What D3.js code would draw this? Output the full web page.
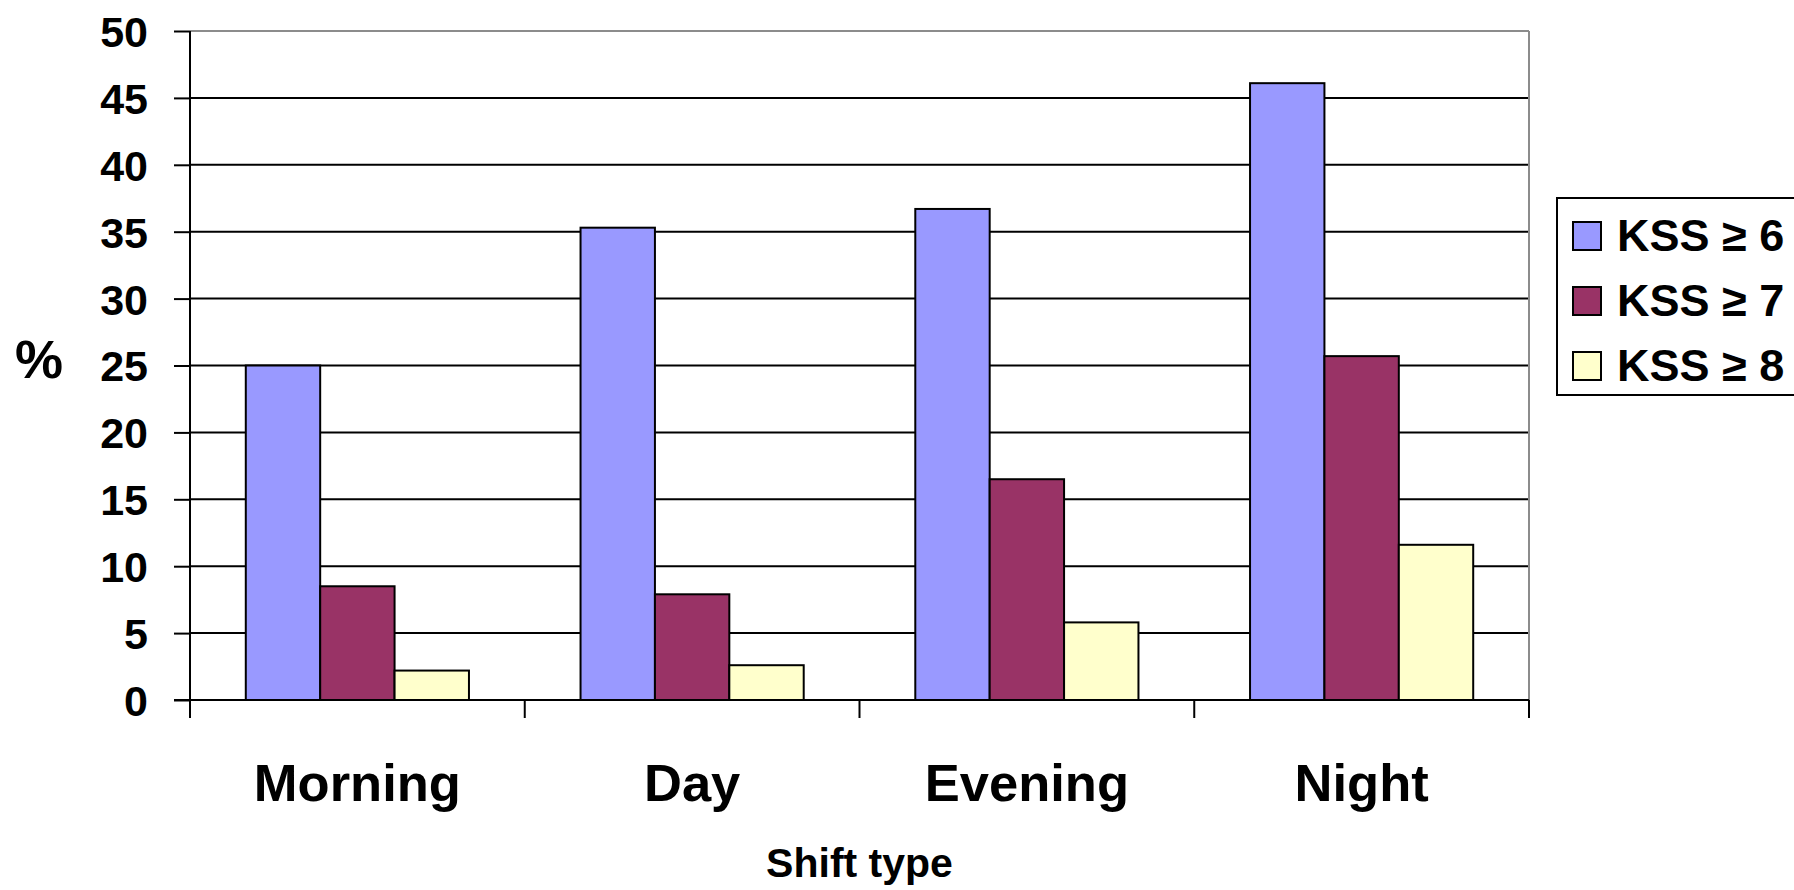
<!DOCTYPE html>
<html>
<head>
<meta charset="utf-8">
<script src="https://cdn.jsdelivr.net/npm/d3@7"></script>
<style>
  html, body { margin: 0; padding: 0; background: #ffffff; }
  svg { display: block; }
  text { font-family: "Liberation Sans", Arial, sans-serif; font-weight: bold; fill: #000; }
</style>
</head>
<body>
<svg id="chart" width="1794" height="890"></svg>
<script>
const categories = ["Morning", "Day", "Evening", "Night"];
const seriesNames = ["KSS \u2265 6", "KSS \u2265 7", "KSS \u2265 8"];
const kss6 = [25.0, 35.3, 36.7, 46.1];
const kss7 = [8.5, 7.9, 16.5, 25.7];
const kss8 = [2.2, 2.6, 5.8, 11.6];
const seriesColors = ["#9999FF", "#993366", "#FFFFCC"];
const yTicks = [0, 5, 10, 15, 20, 25, 30, 35, 40, 45, 50];
const xTitle = "Shift type";
const yTitle = "%";

const seriesValues = [kss6, kss7, kss8];

const svg = d3.select("#chart");
const mLeft = 190, mRight = 1529, mTop = 31, mBottom = 700;

const y = d3.scaleLinear().domain([0, 50]).range([mBottom, mTop]);
const x0 = d3.scaleBand().domain(categories).range([mLeft, mRight]).padding(0);
const x1 = d3.scaleBand().domain(d3.range(seriesNames.length))
  .range([0, x0.bandwidth()]).paddingInner(0).paddingOuter(0.75);

// gridlines (black) excluding top (border)
svg.append("g").selectAll("line").data(yTicks.filter(t => t > 0 && t < 50)).join("line")
  .attr("x1", mLeft).attr("x2", mRight)
  .attr("y1", d => y(d)).attr("y2", d => y(d))
  .attr("stroke", "#000").attr("stroke-width", 2);

// plot border top & right (gray)
svg.append("line").attr("x1", mLeft).attr("x2", mRight).attr("y1", y(50)).attr("y2", y(50))
  .attr("stroke", "#8c8c8c").attr("stroke-width", 2);
svg.append("line").attr("x1", mRight).attr("x2", mRight).attr("y1", y(50)).attr("y2", y(0))
  .attr("stroke", "#8c8c8c").attr("stroke-width", 2);

// bars
const groups = svg.append("g").selectAll("g").data(categories).join("g")
  .attr("transform", d => `translate(${x0(d)},0)`);
groups.selectAll("rect").data((c, ci) => seriesValues.map((vals, si) => ({si, v: vals[ci]}))).join("rect")
  .attr("x", d => x1(d.si))
  .attr("width", x1.bandwidth())
  .attr("y", d => y(d.v))
  .attr("height", d => y(0) - y(d.v))
  .attr("fill", d => seriesColors[d.si])
  .attr("stroke", "#000").attr("stroke-width", 2);

// y axis
const yAxis = d3.axisLeft(y).tickValues(yTicks).tickSize(16).tickPadding(26);
const gy = svg.append("g").attr("transform", `translate(${mLeft},0)`).call(yAxis);
gy.select(".domain").attr("stroke", "#000").attr("stroke-width", 2).attr("d", `M0,${mTop}V${mBottom + 18}`);
gy.selectAll(".tick line").attr("stroke", "#000").attr("stroke-width", 2);
gy.selectAll(".tick text").attr("font-size", 43).attr("dy", "0.36em")
  .style("font-family", '"Liberation Sans", Arial, sans-serif').style("font-weight", "bold").attr("fill", "#000");

// x axis
const gx = svg.append("g").attr("transform", `translate(0,${mBottom})`);
gx.append("line").attr("x1", mLeft - 16).attr("x2", mRight).attr("y1", 0).attr("y2", 0)
  .attr("stroke", "#000").attr("stroke-width", 2);
const boundaries = categories.map(c => x0(c)).concat([mRight]);
gx.selectAll("line.tk").data(boundaries).join("line").attr("class", "tk")
  .attr("x1", d => d).attr("x2", d => d).attr("y1", 0).attr("y2", 18)
  .attr("stroke", "#000").attr("stroke-width", 2);
gx.selectAll("text").data(categories).join("text")
  .attr("x", d => x0(d) + x0.bandwidth() / 2)
  .attr("y", 101)
  .attr("text-anchor", "middle")
  .attr("font-size", 52.5)
  .text(d => d);

// axis titles
svg.append("text").attr("x", (mLeft + mRight) / 2).attr("y", 877)
  .attr("text-anchor", "middle").attr("font-size", 41).text(xTitle);
svg.append("text").attr("x", 39).attr("y", 378)
  .attr("text-anchor", "middle").attr("font-size", 54).text(yTitle);

// legend
const lg = svg.append("g");
lg.append("rect").attr("x", 1557).attr("y", 198).attr("width", 260).attr("height", 197)
  .attr("fill", "#fff").attr("stroke", "#000").attr("stroke-width", 2);
const items = lg.selectAll("g").data(seriesNames).join("g")
  .attr("transform", (d, i) => `translate(0,${i * 65})`);
items.append("rect").attr("x", 1573).attr("y", 222).attr("width", 28).attr("height", 28)
  .attr("fill", (d, i) => seriesColors[i]).attr("stroke", "#000").attr("stroke-width", 2);
items.append("text").attr("x", 1617).attr("y", 251).attr("font-size", 45).text(d => d);
</script>
</body>
</html>
